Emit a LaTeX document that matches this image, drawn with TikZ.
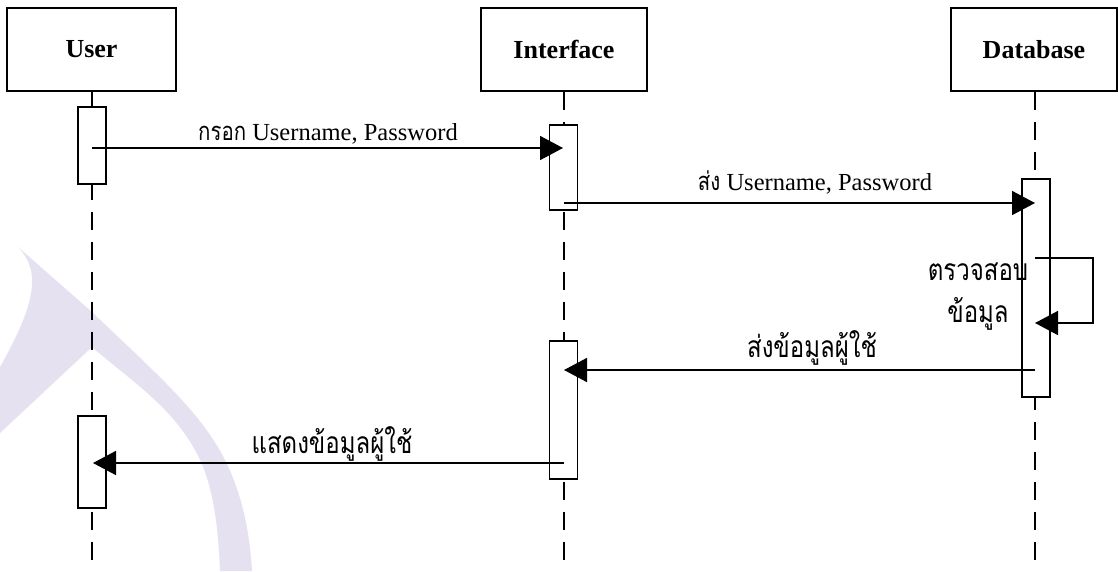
\documentclass[tikz,border=0pt]{standalone}
\usepackage{fontspec}
\setmainfont{Liberation Serif}
\newfontfamily\thaifont[Script=Thai,FakeStretch=0.8]{Loma}
\usetikzlibrary{arrows.meta}

\begin{document}
\begin{tikzpicture}[x=1pt,y=-1pt,
  actorbox/.style={draw, line width=1.7pt, minimum width=166pt, minimum height=83pt,
    inner sep=0pt, font=\fontsize{26}{29}\selectfont\bfseries},
  actbox/.style={draw, fill=white, line width=1.7pt, minimum width=28pt, inner sep=0pt},
  lifeline/.style={line width=1.6pt, dash pattern=on 18pt off 12pt},
  msg/.style={line width=1.7pt, -{Triangle[length=23pt,width=24pt]}},
  msglabel/.style={anchor=base, inner sep=0pt, font=\fontsize{24.5}{28}\selectfont},
  thailabel/.style={anchor=base, inner sep=0pt, font=\fontsize{30}{36}\selectfont\thaifont},
  watermark/.style={fill={rgb,255:red,230;green,225;blue,240}}
]
% page and background
\fill[white] (0,0) rectangle (1118,571);
\useasboundingbox (0,0) rectangle (1118,571);

% faint emblem in the background
\fill[watermark] (18,247) -- (92,312)
  .. controls (150,368) and (200,410) .. (225,460)
  .. controls (245,500) and (250,540) .. (252,571)
  -- (220,571)
  .. controls (218,520) and (212,480) .. (195,450)
  .. controls (170,405) and (130,380) .. (92,347)
  -- (0,433) -- (0,367)
  .. controls (38,300) and (40,270) .. (18,247) -- cycle;

% participants
\node[actorbox, minimum width=169pt] (user) at (91.5,49.5) {User};
\node[actorbox] (iface) at (564,49.5) {Interface};
\node[actorbox] (db) at (1034,49.5) {Database};

% lifeline ends
\coordinate (userend) at (92,564);
\coordinate (ifaceend) at (564,564);
\coordinate (dbend) at (1035,564);
\draw[lifeline] (user.south -| userend) -- (userend);
\draw[lifeline] (iface.south -| ifaceend) -- (ifaceend);
\draw[lifeline] (db.south -| dbend) -- (dbend);

% activation bars
\node[actbox, minimum height=77pt] (ua1) at (92,145.5) {};
\node[actbox, minimum height=85pt] (ia1) at (563.5,167.5) {};
\node[actbox, minimum height=218pt] (da1) at (1036,288) {};
\node[actbox, minimum height=138pt] (ia2) at (563.5,410) {};
\node[actbox, minimum height=92pt] (ua2) at (92,462) {};

% message end points
\coordinate (m1s) at (92,148);   \coordinate (m1e) at (563,148);
\coordinate (m2s) at (564,203);  \coordinate (m2e) at (1035,203);
\coordinate (m3s) at (1035,258); \coordinate (m3c) at (1093,323);
\coordinate (m3e) at (1035,323);
\coordinate (m4s) at (1035,370); \coordinate (m4e) at (564,370);
\coordinate (m5s) at (564,463);  \coordinate (m5e) at (93,463);

% messages
\draw[msg] (m1s) -- (m1e);
\draw[msg] (m2s) -- (m2e);
\draw[msg] (m3s) -| (m3c) -- (m3e);
\draw[msg] (m4s) -- (m4e);
\draw[msg] (m5s) -- (m5e);

% message labels
\node[msglabel] (l1) at (328,140) {{\fontsize{25.5}{29}\selectfont\thaifont กรอก} Username, Password};
\node[msglabel] (l2) at (815,190) {{\fontsize{25.5}{29}\selectfont\thaifont ส่ง} Username, Password};
\node[thailabel] (l3a) at (978,280) {ตรวจสอบ};
\node[thailabel] (l3b) at (978,322) {ข้อมูล};
\node[thailabel] (l4) at (812,357) {ส่งข้อมูลผู้ใช้};
\node[thailabel] (l5) at (332,453) {แสดงข้อมูลผู้ใช้};
\end{tikzpicture}
\end{document}
